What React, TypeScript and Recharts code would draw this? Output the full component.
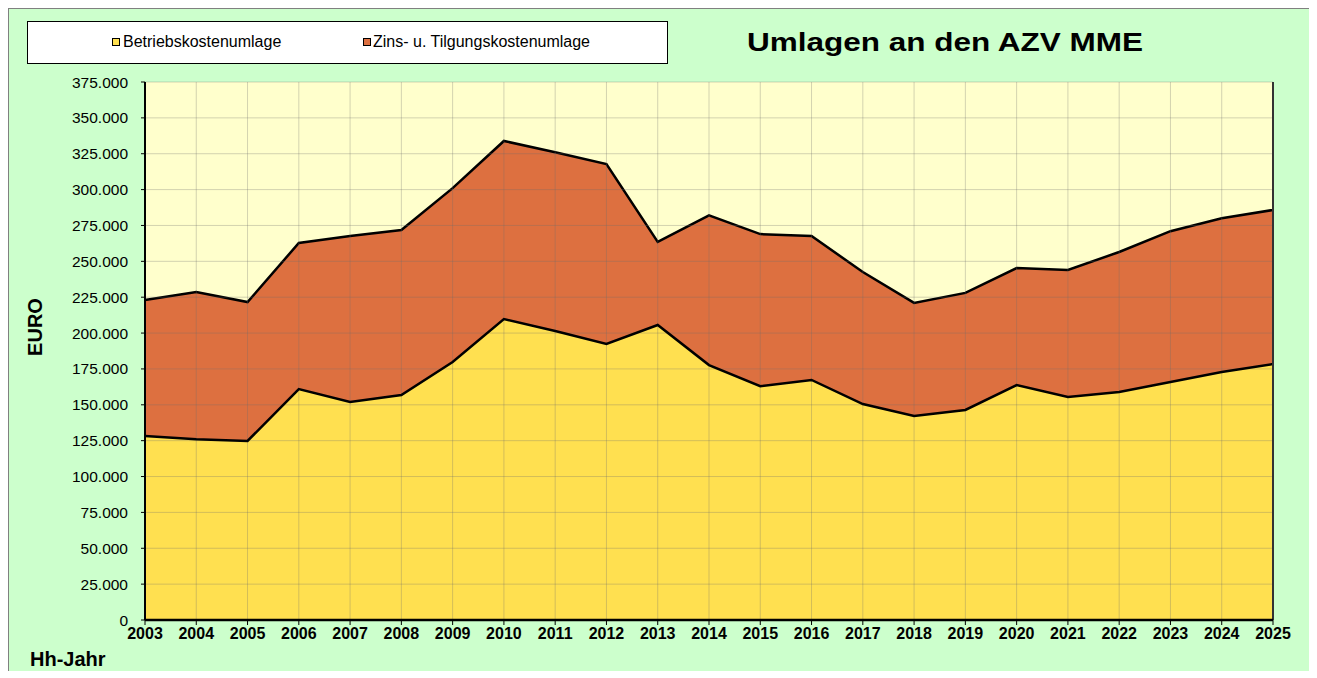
import React from 'react';
import { ComposedChart, Area, Line, XAxis, YAxis, ReferenceLine } from 'recharts';

const years = [
  '2003', '2004', '2005', '2006', '2007', '2008', '2009', '2010', '2011', '2012', '2013', '2014',
  '2015', '2016', '2017', '2018', '2019', '2020', '2021', '2022', '2023', '2024', '2025',
];

// Betriebskostenumlage (EUR)
const betriebskosten = [
  128200, 126000, 124800, 161000, 152000, 156800, 179800, 209800, 201400, 192400, 205600, 177700,
  163000, 167300, 150500, 142200, 146400, 163800, 155400, 159000, 165900, 172900, 178400,
];

// Zins- u. Tilgungskostenumlage (EUR)
const zinsTilgung = [
  94800, 102600, 96800, 101800, 115600, 115000, 121200, 124100, 124600, 125400, 57900, 104300,
  106000, 100300, 92100, 78800, 81600, 81500, 88600, 97500, 105100, 107100, 107400,
];

const yTicks = [0, 25000, 50000, 75000, 100000, 125000, 150000, 175000, 200000, 225000, 250000, 275000, 300000, 325000, 350000, 375000];

const data = years.map((year, i) => ({
  year,
  betrieb: betriebskosten[i],
  zins: zinsTilgung[i],
}));

const fmt = (v: number) => String(v).replace(/\B(?=(\d{3})+(?!\d))/g, '.');

const FONT = '"Liberation Sans", Arial, sans-serif';

export default function App() {
  return (
    <div
      style={{
        position: 'relative',
        width: 1300,
        height: 670,
        marginBottom: -8,
        background: '#CCFFCC',
        border: '1px solid #808080',
        borderBottom: 'none',
        fontFamily: FONT,
        overflow: 'hidden',
      }}
    >
      {/* legend */}
      <div
        style={{
          position: 'absolute',
          left: 18,
          top: 12,
          width: 639,
          height: 41,
          background: '#FFFFFF',
          border: '1px solid #000',
          fontSize: 16,
          color: '#000',
        }}
      >
        <div style={{ position: 'absolute', left: 84, top: 11, display: 'flex', alignItems: 'center' }}>
          <span style={{ width: 6, height: 6, background: '#FFE050', border: '1.5px solid #000', marginRight: 3 }} />
          <span>Betriebskostenumlage</span>
        </div>
        <div style={{ position: 'absolute', left: 335, top: 11, display: 'flex', alignItems: 'center' }}>
          <span style={{ width: 6, height: 6, background: '#DD7040', border: '1.5px solid #000', marginRight: 2 }} />
          <span>Zins- u. Tilgungskostenumlage</span>
        </div>
      </div>

      {/* title */}
      <div
        style={{
          position: 'absolute',
          left: 680,
          width: 512,
          top: 19,
          textAlign: 'center',
          fontSize: 25,
          fontWeight: 'bold',
          color: '#000',
          transform: 'scaleX(1.26)',
        }}
      >
        Umlagen an den AZV MME
      </div>

      <div
        style={{
          position: 'absolute',
          left: 26,
          top: 318,
          transform: 'translate(-50%, -50%) rotate(-90deg)',
          fontSize: 20,
          fontWeight: 'bold',
          whiteSpace: 'nowrap',
        }}
      >
        EURO
      </div>
      <div style={{ position: 'absolute', left: 21, top: 639, fontSize: 20, fontWeight: 'bold' }}>Hh-Jahr</div>

      <div style={{ position: 'absolute', left: 0, top: 0 }}>
        <ComposedChart
          width={1300}
          height={668}
          data={data}
          margin={{ top: 73, right: 36, left: 0, bottom: 27 }}
        >
          <rect x={136} y={73} width={1128} height={538} fill="#FFFFCC" />
          <XAxis
            dataKey="year"
            interval={0}
            tickLine={{ stroke: '#000' }}
            tickSize={5}
            tickMargin={3}
            height={30}
            axisLine={{ stroke: '#000', strokeWidth: 2.5 }}
            tick={{ fill: '#000', fontSize: 16, fontWeight: 'bold', fontFamily: FONT }}
            padding={{ left: 0, right: 0 }}
            scale="point"
          />
          <YAxis
            width={136}
            domain={[0, 375000]}
            ticks={yTicks}
            interval={0}
            tickFormatter={fmt}
            tickSize={4}
            tickMargin={13}
            tickLine={{ stroke: '#000' }}
            axisLine={{ stroke: '#000', strokeWidth: 2 }}
            tick={{ fill: '#000', fontSize: 15.5, fontFamily: FONT }}
          />
          <Area
            type="linear"
            dataKey="betrieb"
            stackId="1"
            fill="#FFE050"
            fillOpacity={1}
            stroke="none"
            isAnimationActive={false}
          />
          <Area
            type="linear"
            dataKey="zins"
            stackId="1"
            fill="#DD7040"
            fillOpacity={1}
            stroke="#000"
            strokeWidth={2.5}
            isAnimationActive={false}
          />
          {years.slice(1).map((y) => (
            <ReferenceLine key={'v' + y} x={y} stroke="rgba(110,110,110,0.3)" strokeWidth={1} />
          ))}
          {yTicks.slice(1).map((t) => (
            <ReferenceLine key={'h' + t} y={t} stroke="rgba(110,110,110,0.3)" strokeWidth={1} />
          ))}
          <Line
            type="linear"
            dataKey="betrieb"
            stroke="#000"
            strokeWidth={2.5}
            dot={false}
            activeDot={false}
            isAnimationActive={false}
            legendType="none"
          />
          <ReferenceLine x={years[years.length - 1]} stroke="#333" strokeWidth={2} />
        </ComposedChart>
      </div>
    </div>
  );
}
